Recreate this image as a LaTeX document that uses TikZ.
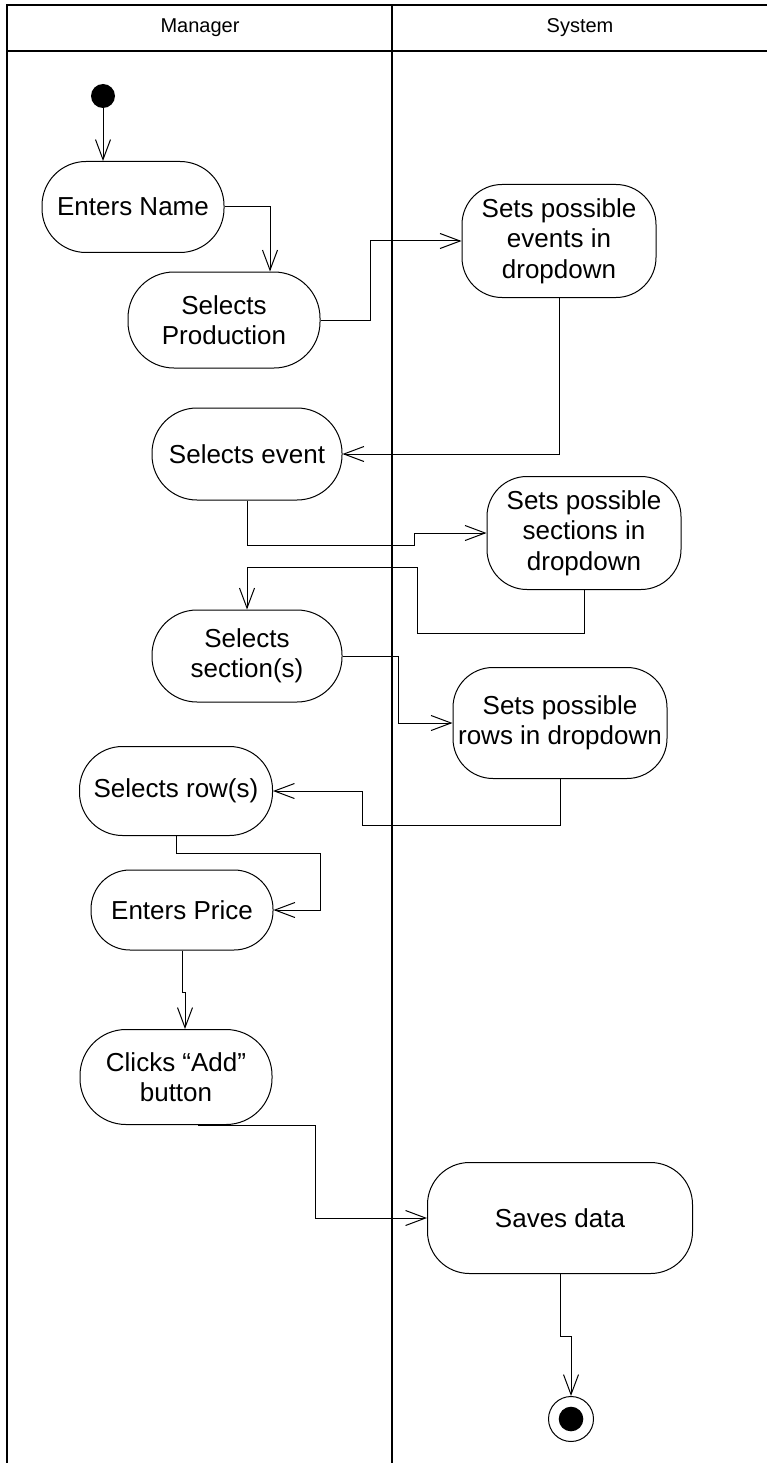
\documentclass[tikz,border=0pt]{standalone}
\usepackage{fontspec}
\setmainfont{Liberation Sans}
\usetikzlibrary{arrows.meta,calc}

\tikzset{
  act/.style={draw, line width=1pt, align=center, inner sep=0pt,
    font=\fontsize{26}{30.5}\selectfont},
  flow/.style={line width=1pt, -{Straight Barb[length=20pt,width=15pt,line width=1pt]}},
  lane/.style={line width=2pt},
  lanetitle/.style={font=\fontsize{20}{24}\selectfont},
}

\begin{document}
\begin{tikzpicture}[x=1pt,y=-1pt]
\useasboundingbox (0,0) rectangle (767,1463);

% swimlane frame
\draw[lane] (7,1463) -- (7,5.5) -- (767,5.5);
\draw[line width=1.5pt] (7,51) -- (767,51);
\draw[lane] (392,5.5) -- (392,1463);
\node[lanetitle] (mgr) at (200,28) {Manager};
\node[lanetitle] (sys) at (580,28) {System};

% start / end states
\node[circle, fill=black, minimum size=24pt, inner sep=0pt] (start) at (103,96) {};
\node[circle, draw, line width=1pt, minimum size=45pt, inner sep=0pt] (end) at (571,1419) {};
\fill (end.center) circle (12.3pt);

% manager activities
\node[act, minimum width=182pt, minimum height=91pt, rounded corners=44pt] (n1) at (133,207) {Enters Name};
\node[act, minimum width=192pt, minimum height=96pt, rounded corners=46pt] (n2) at (224,320) {Selects\\Production};
\node[act, minimum width=190pt, minimum height=92pt, rounded corners=45pt] (n3) at (247,454) {Selects event};
\node[act, minimum width=190pt, minimum height=92pt, rounded corners=45pt] (n4) at (247,656) {Selects\\section(s)};
\node[act, minimum width=193pt, minimum height=89pt, rounded corners=43pt] (n5) at (176,791) {Selects row(s)};
\node[act, minimum width=182pt, minimum height=80pt, rounded corners=39pt] (n6) at (182,910) {Enters Price};
\node[act, minimum width=192pt, minimum height=95pt, rounded corners=46pt] (n7) at (176,1077) {Clicks “Add”\\button};

% system activities
\node[act, minimum width=194pt, minimum height=113pt, rounded corners=40pt] (s1) at (559,241) {Sets possible\\events in\\dropdown};
\node[act, minimum width=194pt, minimum height=113pt, rounded corners=40pt] (s2) at (584,533) {Sets possible\\sections in\\dropdown};
\node[act, minimum width=214pt, minimum height=111pt, rounded corners=40pt] (s3) at (560,723) {Sets possible\\rows in dropdown};
\node[act, minimum width=265pt, minimum height=111pt, rounded corners=42pt] (s4) at (560,1218) {Saves data};

% control flow
\draw[flow] (start.south) -- (start.south |- n1.north);
\draw[flow] (n1.east) -| ([xshift=46pt]n2.north);
\draw[flow] (n2.east) -- ++(50,0) |- (s1.west);
\draw[flow] (s1.south) |- (n3.east);
\draw[flow] (n3.south) |- ([shift={(-72,12)}]s2.west) -- ++(0,-12) -- (s2.west);
\draw[flow] (s2.south) -- ++(0,43) -| ++(-167,-66) -| (n4.north);
\draw[flow] (n4.east) -- ++(56,0) |- (s3.west);
\draw[flow] (s3.south) -- ++(0,46) -| ([xshift=89pt]n5.east) -- (n5.east);
\draw[flow] (n5.south) -- ++(0,17) -| ([xshift=47pt]n6.east) -- (n6.east);
\draw[flow] (n6.south) -- ++(0,42) -| ([xshift=9pt]n7.north);
\draw[flow] ([xshift=22pt]n7.south) -- ++(117,0) |- (s4.west);
\draw[flow] (s4.south) -- ++(0,62) -| (end.north);
\end{tikzpicture}
\end{document}
